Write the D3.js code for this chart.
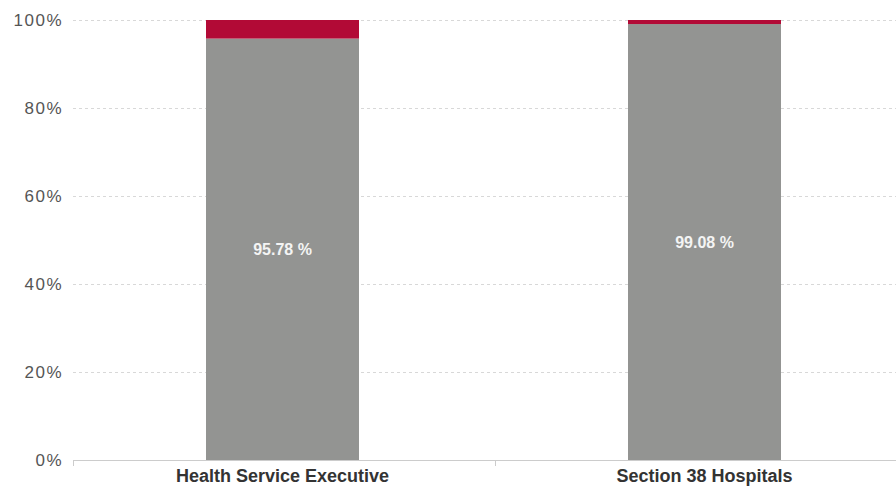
<!DOCTYPE html>
<html>
<head>
<meta charset="utf-8">
<script src="https://cdn.jsdelivr.net/npm/d3@7"></script>
<style>
body { margin:0; background:#fff; }
svg { display:block; font-family: Arial, "Liberation Sans", sans-serif; }
</style>
</head>
<body>
<div id="chart-area"></div>
<script>
// data
var categories = ["Health Service Executive", "Section 38 Hospitals"];
var mainValues = [95.78, 99.08];
var restValues = [4.22, 0.92];
var yTicks = [0, 20, 40, 60, 80, 100];

var margin = { left:73, right:-21, top:20, bottom:27 };
var width = 896 - margin.left - margin.right,
    height = 487 - margin.top - margin.bottom;

var svg = d3.select("#chart-area").append("svg")
    .attr("width", 896).attr("height", 487);
var g = svg.append("g")
    .attr("transform", "translate(" + margin.left + "," + margin.top + ")");

// scales
var x = d3.scaleBand().domain(categories).range([0, width])
    .paddingInner(0).paddingOuter(0);
var y = d3.scaleLinear().domain([0, 100]).range([height, 0]);
var barW = 153;
var barX = d => x(d.cat) + x.bandwidth() / 2 - barW / 2 - 1.5;

// grid
g.selectAll(".grid").data(yTicks.filter(d => d > 0)).enter()
  .append("line")
  .attr("x1", 0).attr("x2", width)
  .attr("y1", d => Math.round(y(d)) + 0.5).attr("y2", d => Math.round(y(d)) + 0.5)
  .attr("stroke", "#d8d8d8").attr("stroke-dasharray", "3,3");

// y labels
g.selectAll(".ylab").data(yTicks).enter()
  .append("text")
  .attr("x", -10).attr("y", d => y(d) + 6)
  .attr("text-anchor", "end")
  .attr("font-size", "17px").attr("letter-spacing", "1.5px").attr("fill", "#555")
  .text(d => d + "%");

// bars
var rows = categories.map((c, i) => ({ cat: c, main: mainValues[i], rest: restValues[i] }));

g.selectAll(".main").data(rows).enter()
  .append("rect")
  .attr("x", barX)
  .attr("y", d => y(d.main))
  .attr("width", barW)
  .attr("height", d => height - y(d.main))
  .attr("fill", "#939492");

g.selectAll(".rest").data(rows).enter()
  .append("rect")
  .attr("x", barX)
  .attr("y", d => y(d.main + d.rest))
  .attr("width", barW)
  .attr("height", d => y(d.main) - y(d.main + d.rest))
  .attr("fill", "#b20a36");

// value labels
g.selectAll(".val").data(rows).enter()
  .append("text")
  .attr("x", d => barX(d) + barW / 2)
  .attr("y", d => y(d.main / 2) + 5.5)
  .attr("text-anchor", "middle")
  .attr("font-size", "16px").attr("font-weight", "bold").attr("fill", "#f4f4f4")
  .text(d => d.main.toFixed(2) + " %");

// x axis
var xa = g.append("g").attr("transform", "translate(0," + height + ")");
xa.append("line").attr("x1", 0).attr("x2", width).attr("y1", 0.5).attr("y2", 0.5)
  .attr("stroke", "#ccc");
xa.selectAll(".tick").data([0].concat(categories.map(c => x(c) + x.bandwidth()))).enter()
  .append("line")
  .attr("x1", d => Math.round(d) + 0.5).attr("x2", d => Math.round(d) + 0.5)
  .attr("y1", 0).attr("y2", 6).attr("stroke", "#ccc");
xa.selectAll(".xlab").data(categories).enter()
  .append("text")
  .attr("x", d => x(d) + x.bandwidth() / 2 - 1.5)
  .attr("y", 22)
  .attr("text-anchor", "middle")
  .attr("font-size", "18px").attr("font-weight", "bold").attr("fill", "#333")
  .text(d => d);
</script>
</body>
</html>
